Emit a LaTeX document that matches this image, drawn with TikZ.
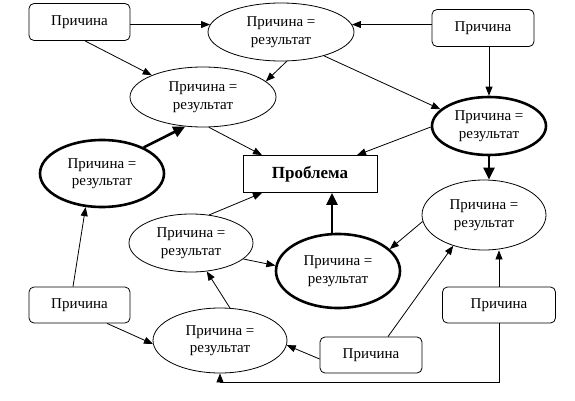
\documentclass[tikz,border=0pt]{standalone}
\usepackage{fontspec}
\setmainfont{Liberation Serif}
\usetikzlibrary{shapes.geometric,arrows.meta}
\begin{document}
\begin{tikzpicture}[x=1pt,y=-1pt,
  every node/.style={font=\fontsize{15}{17.5}\selectfont, align=center, inner sep=0pt},
  cause/.style={draw, rounded corners=5pt, minimum height=37pt, line width=0.8pt},
  eff/.style={draw, ellipse, line width=0.8pt},
  key/.style={draw, ellipse, line width=2.6pt},
  arr/.style={-{Triangle[length=9pt,width=7pt]}, line width=0.8pt},
  thickarr/.style={-{Triangle[length=12pt,width=11pt]}, line width=2.6pt},
]
\useasboundingbox (0,0) rectangle (575,401);
% causes
\node[cause, minimum width=101pt] (c1) at (79.5,22) {Причина};
\node[cause, minimum width=102pt] (c2) at (483,28) {Причина};
\node[cause, minimum width=101pt, minimum height=36pt] (c3) at (79.5,305) {Причина};
\node[cause, minimum width=102pt, minimum height=36pt] (c4) at (371,355) {Причина};
\node[cause, minimum width=113pt, minimum height=36pt] (c5) at (499,305) {Причина};
% problem
\node[draw, line width=0.8pt, minimum width=134pt, minimum height=37pt, font=\fontsize{17}{20}\selectfont\bfseries] (prob) at (310,174) {Проблема};
% ellipses
\node[eff, minimum width=146pt, minimum height=58pt] (e1) at (281,32) {Причина =\\результат};
\node[eff, minimum width=146pt, minimum height=60pt] (e2) at (203,97) {Причина =\\результат};
\node[key, minimum width=124pt, minimum height=67pt] (e3) at (102,173.5) {Причина =\\результат};
\node[key, minimum width=114pt, minimum height=58pt] (e4) at (489,126) {Причина =\\результат};
\node[eff, minimum width=124pt, minimum height=70pt] (e5) at (484,215) {Причина =\\результат};
\node[eff, minimum width=124pt, minimum height=58pt] (e6) at (191,243) {Причина =\\результат};
\node[key, minimum width=124pt, minimum height=74pt] (e7) at (338,271) {Причина =\\результат};
\node[eff, minimum width=134pt, minimum height=65pt] (e8) at (220,340.5) {Причина =\\результат};
% connectors
\draw[arr] (c1.east |- e1.174) -- (e1.174);
\draw[arr] ([xshift=5.5pt]c1.south) -- (e2.157);
\draw[arr] (e1.281) -- (e2.14);
\draw[arr] (c2.west |- e1.6) -- (e1.6);
\draw[arr] (e4.north |- c2.south) -- (e4.north);
\draw[arr] (e1.331) -- (e4.161);
\draw[arr] (e2.281) -- ([xshift=-48pt]prob.north);
\draw[thickarr] (e3.32) -- (e2.239);
\draw[arr] (e4.181) -- ([xshift=47pt]prob.north);
\draw[thickarr] (e4.south) -- (e4.south |- e5.north);
\draw[thickarr] ([xshift=-6pt]e7.north) -- ([xshift=-6pt]e7.north |- prob.south);
\draw[arr] (e6.57) -- ([xshift=-48pt]prob.south);
\draw[arr] (e6.343.5) -- (e7.175.5);
\draw[arr] (e5.186) -- (e7.23);
\draw[arr] ([xshift=-6.5pt]c3.north) -- (e3.244);
\draw[arr] ([xshift=27.5pt]c3.south) -- (e8.183);
\draw[arr] (e8.73) -- (e6.299.5);
\draw[arr] ([yshift=-4pt]c4.west) -- (e8.356.5);
\draw[arr] ([xshift=17pt]c4.north) -- (e5.225);
\draw[arr] (c5.north) -- (c5.north |- e5.south);
\coordinate (corner) at (c5.south |- 0,382);
\draw[arr] (c5.south) -- (corner) -| (e8.south);
\end{tikzpicture}
\end{document}
